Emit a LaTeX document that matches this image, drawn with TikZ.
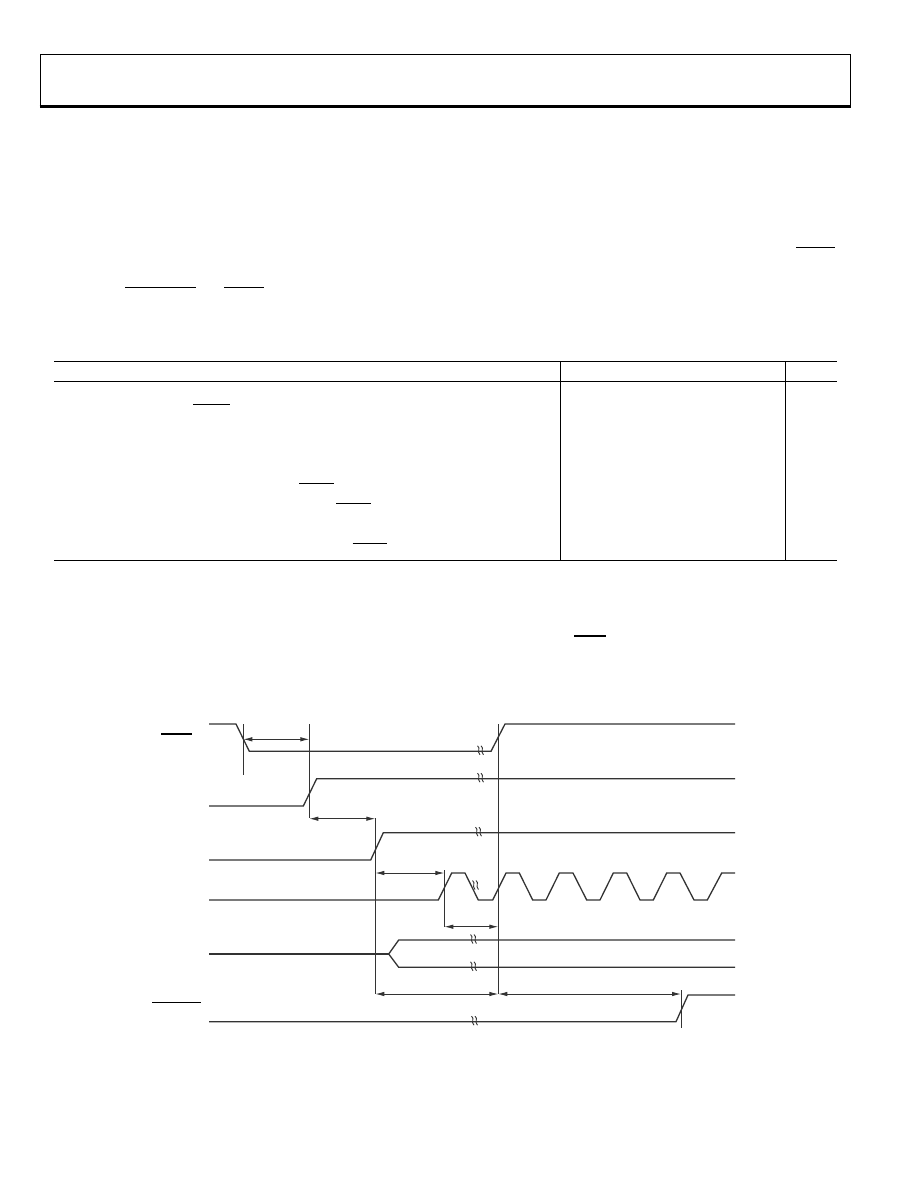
\documentclass[tikz,border=0pt]{standalone}
\usetikzlibrary{arrows.meta}
\definecolor{sig}{HTML}{333333}
\tikzset{
  rule/.style={line width=1.2pt, black},
  ovl/.style={line width=1.2pt, black},
  wave/.style={line width=1.3pt, sig, line join=miter},
  bus/.style={line width=2pt, sig},
  guide/.style={line width=0.9pt, sig},
  dim/.style={line width=0.9pt, sig, {Latex[length=9pt,width=4.5pt]}-{Latex[length=9pt,width=4.5pt]}},
  brk/.pic={
    \draw[line width=0.9pt, sig] (-3.5,-5.5) .. controls (0,-3) and (-4.5,0) .. (-1,3.5);
    \draw[line width=0.9pt, sig] (0,-5.5) .. controls (3.5,-3) and (-1,0) .. (2.5,3.5);
  }
}
\begin{document}
\begin{tikzpicture}[x=1pt,y=-1pt]
\useasboundingbox (0,0) rectangle (918,1188);
% header box
\draw[rule] (40.3,54.3) rectangle (850.3,106);
\draw[line width=3pt] (39.7,106.2) -- (850.9,106.2);
% text overlines
\draw[ovl] (796,247.7) -- (835,247.7);
\draw[ovl] (125,287.3) -- (195.7,287.3);
\draw[ovl] (224.3,287.3) -- (263.7,287.3);
% table
\draw[rule] (54,361.3) -- (836.7,361.3);
\draw[rule] (54,381.7) -- (836.7,381.7);
\draw[rule] (54,560.3) -- (836.7,560.3);
\draw[rule] (560.3,361.3) -- (560.3,560.3);
\draw[rule] (785.7,361.3) -- (785.7,560.3);
\draw[ovl] (193.3,404.3) -- (230,404.3);
\draw[ovl] (299.3,483.3) -- (334,483.3);
\draw[ovl] (336,503.3) -- (371,503.3);
\draw[ovl] (352.7,543.3) -- (387,543.3);
\draw[ovl] (574.3,636) -- (606,636);
% timing diagram labels (overlines)
\draw[ovl] (161,734) -- (191.7,734);
\draw[ovl] (152,1002.7) -- (201,1002.7);
% guides
\coordinate (g1t) at (243.3,724); \coordinate (g1b) at (243.3,775.3);
\coordinate (g2t) at (309.3,724); \coordinate (g2b) at (309.3,818.3);
\coordinate (g3t) at (375.3,818.3); \coordinate (g3b) at (375.3,994);
\coordinate (g4t) at (444.3,870); \coordinate (g4b) at (444.3,927);
\coordinate (g5t) at (498.3,724); \coordinate (g5b) at (498.3,994);
\coordinate (g6t) at (681,990); \coordinate (g6b) at (681,1028);
\draw[guide] (g1t) -- (g1b);
\draw[guide] (g2t) -- (g2b);
\draw[guide] (g3t) -- (g3b);
\draw[guide] (g4t) -- (g4b);
\draw[guide] (g5t) -- (g5b);
\draw[guide] (g6t) -- (g6b);
% dimension arrows
\coordinate (a1l) at (243.3,739.3); \coordinate (a1r) at (309.3,739.3);
\coordinate (a2l) at (309.3,818.7); \coordinate (a2r) at (375.3,818.7);
\coordinate (a3l) at (375.3,873); \coordinate (a3r) at (444.3,873);
\coordinate (a4l) at (444.3,926.7); \coordinate (a4r) at (498.3,926.7);
\coordinate (a5l) at (375.3,994); \coordinate (a5r) at (498.3,994);
\coordinate (a6l) at (498.3,994); \coordinate (a6r) at (681,994);
\draw[dim] (a1l) -- (a1r);
\draw[dim] (a2l) -- (a2r);
\draw[dim] (a3l) -- (a3r);
\draw[dim] (a4l) -- (a4r);
\draw[dim] (a5l) -- (a5r);
\draw[dim] (a6l) -- (a6r);
% signals
\draw[wave] (209,724) -- (236,724) -- (249.3,751.3) -- (491,751.3) -- (505,724) -- (735,724);
\draw[wave] (209,806) -- (303.3,806) -- (316.7,778.7) -- (735,778.7);
\draw[wave] (209,860) -- (370.7,860) -- (383.3,832.7) -- (735,832.7);
\draw[wave] (209,900) -- (438.3,900) -- (451.7,873) -- (465,873) -- (478.3,900) -- (492.7,900)
  -- (506,873) -- (519.3,873) -- (532.7,900) -- (546,900)
  -- (559.3,873) -- (573,873) -- (586.7,900) -- (600,900)
  -- (613.3,873) -- (626.7,873) -- (640,900) -- (653.3,900)
  -- (666.7,873) -- (680,873) -- (694,900) -- (707.3,900)
  -- (721.7,873) -- (735,873);
\draw[bus] (209,954) -- (388.7,954);
\draw[wave] (388.7,954) -- (398.7,940) -- (735,940);
\draw[wave] (388.7,954) -- (398.7,967.3) -- (735,967.3);
\draw[wave] (209,1021.7) -- (676,1021.7) -- (688,995) -- (735,995);
% break marks
\pic at (481,751.3) {brk};
\pic at (481,778.7) {brk};
\pic at (479,832.7) {brk};
\pic at (476,886) {brk};
\pic at (474,940) {brk};
\pic at (474,967.3) {brk};
\pic at (475,1021.7) {brk};
\end{tikzpicture}
\end{document}
